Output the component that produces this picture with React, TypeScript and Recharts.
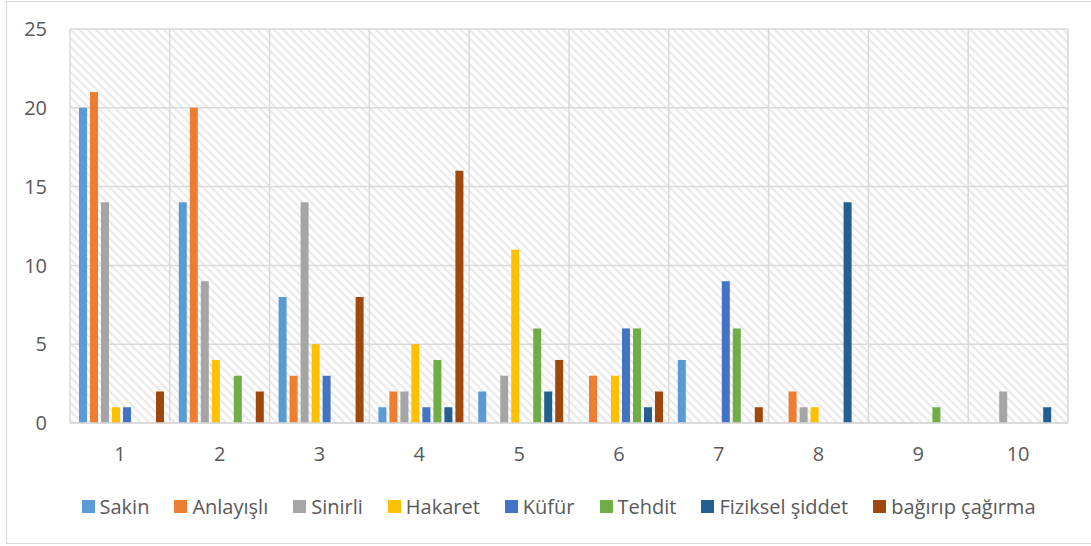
import React from 'react';
import { BarChart, Bar, XAxis, YAxis, CartesianGrid, Legend } from 'recharts';

const categories = ['1', '2', '3', '4', '5', '6', '7', '8', '9', '10'];
const sakin = [20, 14, 8, 1, 2, 0, 4, 0, 0, 0];
const anlayisli = [21, 20, 3, 2, 0, 3, 0, 2, 0, 0];
const sinirli = [14, 9, 14, 2, 3, 0, 0, 1, 0, 2];
const hakaret = [1, 4, 5, 5, 11, 3, 0, 1, 0, 0];
const kufur = [1, 0, 3, 1, 0, 6, 9, 0, 0, 0];
const tehdit = [0, 3, 0, 4, 6, 6, 6, 0, 1, 0];
const fiziksel = [0, 0, 0, 1, 2, 1, 0, 14, 0, 1];
const bagirip = [2, 2, 8, 16, 4, 2, 1, 0, 0, 0];
const yTicks = [0, 5, 10, 15, 20, 25];

const series = [
  { key: 'Sakin', values: sakin, color: '#5B9BD5' },
  { key: 'Anlayışlı', values: anlayisli, color: '#ED7D31' },
  { key: 'Sinirli', values: sinirli, color: '#A5A5A5' },
  { key: 'Hakaret', values: hakaret, color: '#FFC000' },
  { key: 'Küfür', values: kufur, color: '#4472C4' },
  { key: 'Tehdit', values: tehdit, color: '#70AD47' },
  { key: 'Fiziksel şiddet', values: fiziksel, color: '#255E91' },
  { key: 'bağırıp çağırma', values: bagirip, color: '#9E480E' },
];

const data = categories.map((c, i) => {
  const row: Record<string, string | number> = { cat: c };
  series.forEach((s) => {
    row[s.key] = s.values[i];
  });
  return row;
});

const FONT = '"Open Sans", "Noto Sans", sans-serif';
const TEXT = '#595959';

const LegendContent = () => (
  <div
    style={{
      display: 'flex',
      justifyContent: 'center',
      alignItems: 'center',
      height: 46,
      fontFamily: FONT,
      fontSize: 20,
      color: TEXT,
      paddingLeft: 51,
    }}
  >
    {series.map((s) => (
      <div key={s.key} style={{ display: 'flex', alignItems: 'center', marginRight: 25 }}>
        <span style={{ display: 'inline-block', width: 13, height: 13, background: s.color, marginRight: 5 }} />
        <span>{s.key}</span>
      </div>
    ))}
  </div>
);

export default function App() {
  return (
    <div style={{ position: 'absolute', left: 0, top: 0, width: 1091, height: 546, background: '#fff' }}>
      <svg width={0} height={0} style={{ position: 'absolute' }}>
        <defs>
          <pattern id="hatch" width={6} height={6} patternUnits="userSpaceOnUse" patternTransform="rotate(45)">
            <rect x={0} y={0} width={6} height={6} fill="#ffffff" />
            <rect x={0} y={0} width={6} height={2.2} fill="#e9e9e9" />
          </pattern>
        </defs>
      </svg>
      <div
        style={{
          position: 'absolute',
          left: 6,
          top: 1,
          width: 1100,
          height: 543,
          border: '1.5px solid #d9d9d9',
          boxSizing: 'border-box',
        }}
      />
      <div style={{ position: 'absolute', left: 0, top: 0 }}>
        <BarChart
          width={1091}
          height={546}
          data={data}
          margin={{ top: 29, right: 23, left: 0, bottom: 3 }}
          barCategoryGap={9}
          barGap={3}
        >
          <CartesianGrid
            fill="url(#hatch)"
            fillOpacity={1}
            stroke="#d9d9d9"
            strokeWidth={1.5}
            verticalCoordinatesGenerator={({ offset }: any) =>
              categories.concat(['']).map((_, i) => offset.left + (i * offset.width) / categories.length)
            }
          />
          <XAxis
            dataKey="cat"
            interval={0}
            tickLine={false}
            axisLine={{ stroke: '#d9d9d9', strokeWidth: 1.5 }}
            tick={{ fill: TEXT, fontSize: 20, fontFamily: FONT }}
            tickMargin={18}
            height={60}
          />
          <YAxis
            width={70}
            domain={[0, 25]}
            ticks={yTicks}
            axisLine={false}
            tickLine={false}
            tickSize={0}
            tickMargin={23}
            tick={{ fill: TEXT, fontSize: 20, fontFamily: FONT }}
          />
          <Legend
            verticalAlign="bottom"
            height={60}
            content={<LegendContent />}
            wrapperStyle={{ left: 0, width: 1091 }}
          />
          {series.map((s) => (
            <Bar key={s.key} dataKey={s.key} fill={s.color} isAnimationActive={false} />
          ))}
        </BarChart>
      </div>
    </div>
  );
}
